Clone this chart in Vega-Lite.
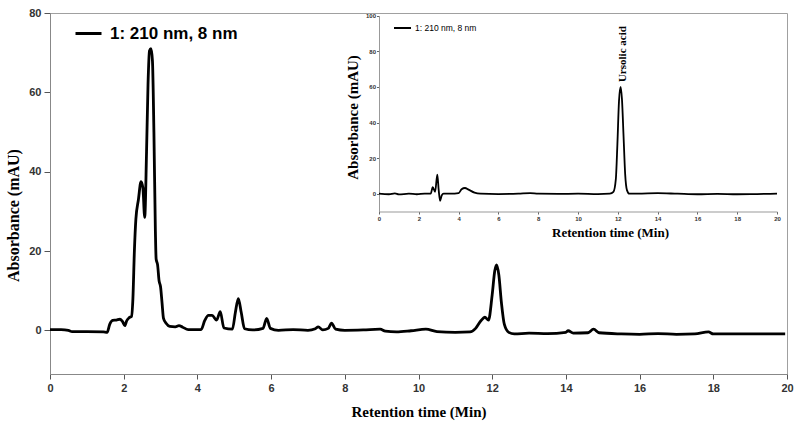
{
  "$schema": "https://vega.github.io/schema/vega-lite/v6.json",
  "width": 737,
  "height": 361,
  "autosize": {"type": "none"},
  "padding": {"left": 50, "top": 13, "right": 13, "bottom": 54},
  "background": "white",
  "config": {
    "view": {"stroke": "#a0a0a0", "strokeWidth": 1},
    "axis": {"grid": false}
  },
  "datasets": {
    "main": [
      {"t": 0, "v": 0.2}, {"t": 0.3, "v": 0.2}, {"t": 0.5, "v": 0.0}, {"t": 0.6, "v": -0.3},
      {"t": 1.0, "v": -0.3}, {"t": 1.45, "v": -0.4}, {"t": 1.55, "v": -0.5}, {"t": 1.62, "v": 1.5},
      {"t": 1.7, "v": 2.5}, {"t": 1.8, "v": 2.6}, {"t": 1.9, "v": 2.8}, {"t": 1.97, "v": 2.2},
      {"t": 2.03, "v": 1.2}, {"t": 2.08, "v": 2.4}, {"t": 2.15, "v": 3.2}, {"t": 2.21, "v": 3.5},
      {"t": 2.25, "v": 8}, {"t": 2.29, "v": 20}, {"t": 2.33, "v": 28}, {"t": 2.4, "v": 33},
      {"t": 2.47, "v": 37.5}, {"t": 2.52, "v": 36}, {"t": 2.57, "v": 28.5}, {"t": 2.62, "v": 45},
      {"t": 2.66, "v": 62}, {"t": 2.7, "v": 70.5}, {"t": 2.74, "v": 71}, {"t": 2.78, "v": 68},
      {"t": 2.82, "v": 50}, {"t": 2.86, "v": 25}, {"t": 2.88, "v": 18}, {"t": 2.92, "v": 16.5},
      {"t": 2.96, "v": 12.5}, {"t": 3.0, "v": 11}, {"t": 3.04, "v": 7}, {"t": 3.08, "v": 3},
      {"t": 3.15, "v": 1.8}, {"t": 3.25, "v": 1.0}, {"t": 3.4, "v": 0.9}, {"t": 3.5, "v": 1.2},
      {"t": 3.6, "v": 0.8}, {"t": 3.75, "v": 0.2}, {"t": 4.1, "v": 0.2}, {"t": 4.2, "v": 2.5},
      {"t": 4.3, "v": 3.8}, {"t": 4.4, "v": 3.8}, {"t": 4.52, "v": 2.6}, {"t": 4.62, "v": 4.7},
      {"t": 4.72, "v": 0.6}, {"t": 4.95, "v": 0.3}, {"t": 5.03, "v": 4.5}, {"t": 5.11, "v": 8},
      {"t": 5.19, "v": 4.5}, {"t": 5.28, "v": 0.4}, {"t": 5.5, "v": 0.1}, {"t": 5.78, "v": 0.5},
      {"t": 5.88, "v": 3.0}, {"t": 5.98, "v": 0.5}, {"t": 6.2, "v": 0.0}, {"t": 6.6, "v": 0.2},
      {"t": 7.0, "v": 0.0}, {"t": 7.2, "v": 0.4}, {"t": 7.28, "v": 0.9}, {"t": 7.4, "v": 0.1},
      {"t": 7.55, "v": 0.5}, {"t": 7.64, "v": 1.8}, {"t": 7.75, "v": 0.3}, {"t": 8.0, "v": 0.0},
      {"t": 8.5, "v": 0.1}, {"t": 8.96, "v": 0.3}, {"t": 9.1, "v": -0.2}, {"t": 9.4, "v": -0.4},
      {"t": 9.8, "v": -0.1}, {"t": 10.2, "v": 0.3}, {"t": 10.5, "v": -0.3}, {"t": 11.0, "v": -0.5},
      {"t": 11.4, "v": -0.4}, {"t": 11.55, "v": 0.5}, {"t": 11.7, "v": 2.5}, {"t": 11.8, "v": 3.3},
      {"t": 11.9, "v": 2.6}, {"t": 12.0, "v": 9}, {"t": 12.07, "v": 15}, {"t": 12.12, "v": 16.5},
      {"t": 12.18, "v": 14}, {"t": 12.25, "v": 7}, {"t": 12.33, "v": 1.5}, {"t": 12.45, "v": -0.5},
      {"t": 12.6, "v": -0.9}, {"t": 13.0, "v": -0.7}, {"t": 13.5, "v": -0.8}, {"t": 14.0, "v": -0.5},
      {"t": 14.06, "v": -0.1}, {"t": 14.2, "v": -0.7}, {"t": 14.6, "v": -0.6}, {"t": 14.75, "v": 0.3},
      {"t": 14.9, "v": -0.6}, {"t": 15.5, "v": -0.9}, {"t": 16.0, "v": -1.0}, {"t": 16.5, "v": -0.8},
      {"t": 17.0, "v": -1.0}, {"t": 17.5, "v": -0.9}, {"t": 17.87, "v": -0.4}, {"t": 18.0, "v": -0.9},
      {"t": 19.0, "v": -0.9}, {"t": 19.95, "v": -0.9}
    ],
    "inset": [
      {"t": 0, "v": 0}, {"t": 0.5, "v": -0.3}, {"t": 0.8, "v": 0.2}, {"t": 1.0, "v": -0.4},
      {"t": 1.5, "v": 0}, {"t": 1.9, "v": -0.3}, {"t": 2.3, "v": 0}, {"t": 2.6, "v": 0},
      {"t": 2.7, "v": 3.7}, {"t": 2.82, "v": 1}, {"t": 2.93, "v": 10.7}, {"t": 3.0, "v": 2},
      {"t": 3.07, "v": -4}, {"t": 3.15, "v": -1}, {"t": 3.25, "v": 0}, {"t": 3.6, "v": 0},
      {"t": 4.0, "v": 0.3}, {"t": 4.15, "v": 2.5}, {"t": 4.32, "v": 3.2}, {"t": 4.5, "v": 2.3},
      {"t": 4.8, "v": 0.6}, {"t": 5.1, "v": 0}, {"t": 6.0, "v": -0.2}, {"t": 7.0, "v": 0},
      {"t": 7.6, "v": 0.3}, {"t": 8.0, "v": 0}, {"t": 9.0, "v": -0.1}, {"t": 10.0, "v": 0},
      {"t": 11.0, "v": -0.2}, {"t": 11.6, "v": 0}, {"t": 11.78, "v": 1}, {"t": 11.9, "v": 8},
      {"t": 11.98, "v": 28}, {"t": 12.06, "v": 52}, {"t": 12.14, "v": 60}, {"t": 12.21, "v": 53},
      {"t": 12.29, "v": 32}, {"t": 12.37, "v": 11}, {"t": 12.46, "v": 2}, {"t": 12.58, "v": 0},
      {"t": 13.0, "v": 0}, {"t": 14.0, "v": 0.3}, {"t": 15.0, "v": 0}, {"t": 16.0, "v": -0.3},
      {"t": 17.0, "v": -0.1}, {"t": 18.0, "v": -0.3}, {"t": 19.0, "v": -0.2}, {"t": 20.0, "v": 0}
    ],
    "peaks": [
      {"t": 12.14, "v": 62.7, "label": "Ursolic acid"}
    ]
  },
  "layer": [
    {
      "data": {"name": "main"},
      "mark": {"type": "line", "strokeWidth": 2.8, "strokeJoin": "round", "interpolate": "monotone"},
      "encoding": {
        "x": {
          "field": "t", "type": "quantitative",
          "scale": {"domain": [0, 20], "nice": false, "zero": false},
          "axis": {
            "orient": "bottom",
            "values": [0, 2, 4, 6, 8, 10, 12, 14, 16, 18, 20],
            "title": "Retention time (Min)",
            "titleFont": "Liberation Serif", "titleFontSize": 15, "titleFontWeight": "bold", "titleColor": "black",
            "titleY": 30,
            "labelFont": "Liberation Sans", "labelFontSize": 11, "labelFontWeight": "bold", "labelColor": "#333",
            "labelPadding": 3, "tickSize": 5, "tickColor": "#555", "domainColor": "#888",
            "labelFlush": false
          }
        },
        "y": {
          "field": "v", "type": "quantitative",
          "scale": {"domain": [-11, 80], "nice": false, "zero": false},
          "axis": {
            "orient": "left",
            "values": [0, 20, 40, 60, 80],
            "title": "Absorbance (mAU)",
            "titleFont": "Liberation Serif", "titleFontSize": 16, "titleFontWeight": "bold", "titleColor": "black",
            "titleX": -29, "titleY": 202,
            "labelFont": "Liberation Sans", "labelFontSize": 11, "labelFontWeight": "bold", "labelColor": "#333",
            "labelPadding": 3, "tickSize": 6, "tickColor": "#555", "domainColor": "#888"
          }
        },
        "color": {
          "datum": "1: 210 nm, 8 nm", "type": "nominal",
          "scale": {"range": ["black"]},
          "legend": {
            "orient": "none", "legendX": 24, "legendY": 6, "title": null, "padding": 0,
            "symbolType": "stroke", "symbolSize": 676, "symbolStrokeWidth": 3,
            "labelFont": "Liberation Sans", "labelFontSize": 17, "labelFontWeight": "bold", "labelColor": "black",
            "labelOffset": 7
          }
        }
      }
    },
    {
      "encoding": {
        "x": {
          "field": "t", "type": "quantitative",
          "scale": {"domain": [0, 20], "nice": false, "zero": false, "range": [329, 727]},
          "axis": {
            "orient": "bottom", "offset": -162.5,
            "values": [0, 2, 4, 6, 8, 10, 12, 14, 16, 18, 20],
            "title": "Retention time (Min)",
            "titleFont": "Liberation Serif", "titleFontSize": 13, "titleFontWeight": "bold", "titleColor": "black",
            "titleX": 560, "titleY": 15,
            "labelFont": "Liberation Sans", "labelFontSize": 6, "labelFontWeight": "bold", "labelColor": "#333",
            "labelPadding": 1, "tickSize": 2.5, "tickColor": "#666", "domainColor": "#999",
            "labelFlush": false
          }
        },
        "y": {
          "field": "v", "type": "quantitative",
          "scale": {"domain": [-10, 100], "nice": false, "zero": false, "range": [198.5, 2.7]},
          "axis": {
            "orient": "left", "offset": -329,
            "values": [0, 20, 40, 60, 80, 100],
            "title": "Absorbance (mAU)",
            "titleFont": "Liberation Serif", "titleFontSize": 15, "titleFontWeight": "bold", "titleColor": "black",
            "titleX": -19, "titleY": 104,
            "labelFont": "Liberation Sans", "labelFontSize": 6, "labelFontWeight": "bold", "labelColor": "#333",
            "labelPadding": 1, "tickSize": 2.5, "tickColor": "#666", "domainColor": "#999"
          }
        }
      },
      "layer": [
        {
          "data": {"name": "inset"},
          "mark": {"type": "line", "strokeWidth": 1.8, "strokeJoin": "round", "interpolate": "monotone"},
          "encoding": {
            "color": {
              "datum": "1: 210 nm, 8 nm", "type": "nominal",
              "scale": {"range": ["black"]},
              "legend": {
                "orient": "none", "legendX": 343, "legendY": 5.5, "title": null, "padding": 0,
                "symbolType": "stroke", "symbolSize": 289, "symbolStrokeWidth": 2,
                "labelFont": "Liberation Sans", "labelFontSize": 8.5, "labelColor": "black",
                "labelOffset": 3
              }
            }
          }
        },
        {
          "data": {"name": "peaks"},
          "mark": {"type": "text", "angle": 270, "align": "left", "baseline": "middle", "dy": 2,
                   "font": "Liberation Serif", "fontSize": 11, "fontWeight": "bold", "color": "black"},
          "encoding": {"text": {"field": "label"}}
        }
      ]
    }
  ],
  "resolve": {
    "scale": {"x": "independent", "y": "independent", "color": "independent"},
    "axis": {"x": "independent", "y": "independent"},
    "legend": {"color": "independent"}
  }
}
